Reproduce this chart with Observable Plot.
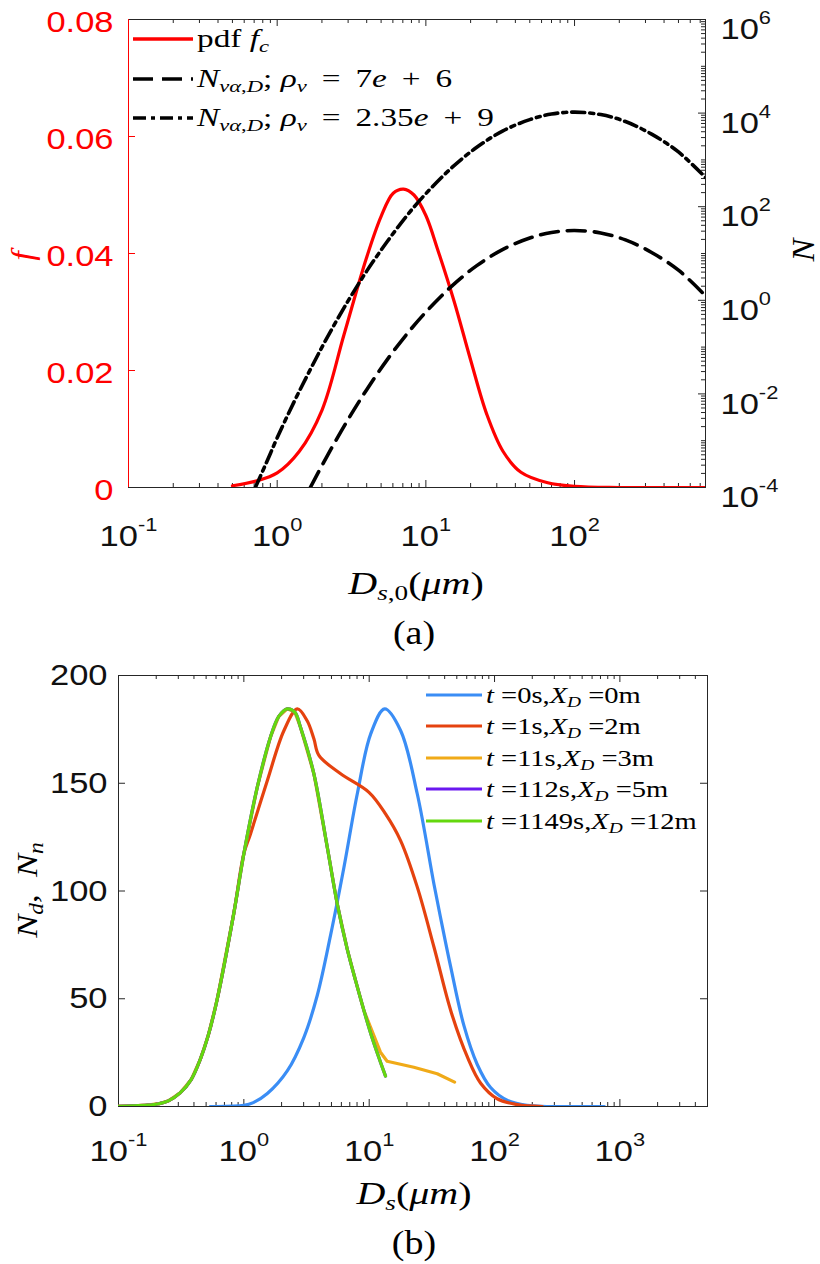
<!DOCTYPE html>
<html><head><meta charset="utf-8">
<script src="https://cdn.jsdelivr.net/npm/d3@7"></script>
<script src="https://cdn.jsdelivr.net/npm/@observablehq/plot@0.6"></script>
<style>
body{margin:0;background:#fff;}
#wrap{position:relative;width:820px;height:1264px;overflow:hidden;font-family:"Liberation Serif","Times New Roman",serif;color:#000;}
#wrap svg.plot{position:absolute;left:0;}
.lab{position:absolute;white-space:nowrap;line-height:1;}
.leg{position:absolute;display:flex;align-items:center;white-space:nowrap;line-height:1;}
.leg svg{display:block;margin-right:4px;flex:none;}
.leg span{display:inline-block;transform-origin:left center;}
sub{font-size:0.68em;vertical-align:-0.28em;line-height:0;}
i{font-style:italic;}
</style></head>
<body><div id="wrap"></div>
<script>
// ---------- Panel (a) data ----------
const xDomainA = [0.1, 760];
const xMajorA = [0.1, 1, 10, 100];
const fTicks = [0, 0.02, 0.04, 0.06, 0.08];
const fTickLabels = ["0", "0.02", "0.04", "0.06", "0.08"];
const nDomain = [1e-4, 1e6];
const nMajor = [1e-4, 1e-2, 1, 1e2, 1e4, 1e6];

// pdf f_c
const pdfD = [0.5, 0.72, 1.0, 1.41, 2.0, 2.82, 3.98, 5.01, 6.03, 7.08, 8.32, 10, 12, 15.5, 20, 25.7, 33, 43.6, 66, 100, 200, 760];
const pdfF = [0.0003, 0.0011, 0.0025, 0.0062, 0.0132, 0.0262, 0.0392, 0.0464, 0.0503, 0.0510, 0.0500, 0.0465, 0.0407, 0.0318, 0.0218, 0.0125, 0.0062, 0.0026, 0.0008, 0.0002, 0, 0];

// N_{va,D}, rho_v = 7e+6 (dashed)
const dashD = [1.67, 2.2, 3.0, 4.0, 5.5, 7.5, 10, 15, 22, 33, 50, 70, 100, 150, 220, 330, 500, 760];
const dashN = [1e-4, 5.1e-4, 2.85e-3, 0.0123, 0.054, 0.195, 0.56, 2.04, 5.5, 12.3, 21.4, 28.2, 31, 27.5, 19.5, 10.5, 4.4, 1.25];

// N_{va,D}, rho_v = 2.35e+9 (dash-dot)
const dashDotD = [0.713, 0.85, 1.0, 1.3, 1.7, 2.2, 3.0, 4.0, 5.5, 7.5, 10, 15, 22, 33, 50, 70, 100, 150, 220, 330, 500, 760];
const dashDotN = [1e-4, 3.5e-4, 1.15e-3, 6.8e-3, 0.037, 0.174, 0.97, 4.2, 18, 66, 190, 690, 1860, 4170, 7240, 9550, 10500, 9300, 6600, 3550, 1480, 420];

// ---------- Panel (b) data ----------
const xDomainB = [0.1, 5000];
const xMajorB = [0.1, 1, 10, 100, 1000];
const yTicksB = [0, 50, 100, 150, 200];
const seriesColors = ["#3a8df5", "#e5420f", "#f0aa18", "#6a18f0", "#64d80e"];

const blueD = [0.54, 1.0, 1.19, 1.54, 2.22, 3.01, 3.85, 4.92, 6.29, 8.03, 10.3, 13.3, 17.8, 24.2, 32.9, 38.5, 44.6, 57, 72.8, 93, 127, 182, 260, 750];
const blueN = [0, 0.5, 1.8, 6.0, 16.5, 32, 51.5, 79.5, 111, 145, 173, 184.5, 174.5, 145, 103, 83, 65, 37.5, 19.5, 8.8, 2.8, 0.5, 0, 0];

const redD = [0.1, 0.13, 0.17, 0.21, 0.25, 0.31, 0.38, 0.45, 0.52, 0.61, 0.83, 1.0, 1.13, 1.54, 2.09, 2.67, 3.2, 3.62, 3.97, 5.92, 9.96, 13.5, 17.8, 24.2, 32.9, 45, 60.7, 77.5, 105, 152, 240];
const redN = [0.1, 0.25, 0.6, 1.3, 2.6, 6.3, 12.5, 22, 33, 49.2, 89.4, 117.3, 126.5, 151.3, 174.5, 184.5, 179, 170.6, 162.9, 154.4, 145.8, 135.8, 123.4, 101.8, 73.9, 44, 23, 10.8, 3.6, 0.9, 0];

const orangeD = [0.1, 0.13, 0.17, 0.21, 0.25, 0.31, 0.38, 0.45, 0.52, 0.61, 0.83, 1.0, 1.28, 1.63, 1.9, 2.22, 2.55, 2.83, 3.62, 4.63, 5.56, 6.68, 7.78, 9.08, 12.3, 13.9, 22.7, 34.9, 48];
const orangeN = [0.1, 0.25, 0.6, 1.3, 2.6, 6.3, 12.5, 22, 33, 49.2, 89.4, 117.3, 148.2, 171.4, 181, 184.5, 183, 176, 154.4, 120.3, 94, 73, 58.5, 44.5, 25.2, 21, 18.2, 15.2, 11.3];

const purpleD = [0.1, 0.13, 0.17, 0.21, 0.25, 0.31, 0.38, 0.45, 0.52, 0.61, 0.83, 1.0, 1.28, 1.63, 1.9, 2.22, 2.55, 2.83, 3.62, 4.63, 5.56, 6.68, 7.78, 10.3, 13.5];
const purpleN = [0.1, 0.25, 0.6, 1.3, 2.6, 6.3, 12.5, 22, 33, 49.2, 89.4, 117.3, 148.2, 171.4, 181, 184.5, 183, 176, 154.4, 120.3, 94, 73, 58.5, 33.8, 14.1];

const greenD = [0.1, 0.13, 0.17, 0.21, 0.25, 0.31, 0.38, 0.45, 0.52, 0.61, 0.83, 1.0, 1.28, 1.63, 1.9, 2.22, 2.55, 2.83, 3.62, 4.63, 5.56, 6.68, 7.78, 10.3, 13.5];
const greenN = [0.1, 0.25, 0.6, 1.3, 2.6, 6.3, 12.5, 22, 33, 49.2, 89.4, 117.3, 148.2, 171.4, 181, 184.5, 183, 176, 154.4, 120.3, 94, 73, 58.5, 33.8, 14.1];

const legendBTexts = [
  "<i>t</i> =0s,<i>X</i><sub><i>D</i></sub> =0m",
  "<i>t</i> =1s,<i>X</i><sub><i>D</i></sub> =2m",
  "<i>t</i> =11s,<i>X</i><sub><i>D</i></sub> =3m",
  "<i>t</i> =112s,<i>X</i><sub><i>D</i></sub> =5m",
  "<i>t</i> =1149s,<i>X</i><sub><i>D</i></sub> =12m"
];

// ---------- helpers ----------
function minorTicks(lo, hi, exclude) {
  const out = [];
  for (let e = Math.floor(Math.log10(lo)) - 1; e <= Math.ceil(Math.log10(hi)); e++) {
    for (let k = 1; k <= 9; k++) {
      const v = +(k * Math.pow(10, e)).toPrecision(6);
      if (v >= lo * 0.9999 && v <= hi * 1.0001 && !exclude.some(m => Math.abs(m - v) / m < 1e-6)) out.push(v);
    }
  }
  return out;
}
const pow10Label = d => "10^" + Math.round(Math.log10(d));
const TEXT_STRETCH = 1.15;
function fixText(svg) {
  svg.querySelectorAll("text").forEach(t => {
    const m = /^10\^(-?\d+)$/.exec(t.textContent);
    if (m) {
      t.textContent = "10";
      const ts = document.createElementNS("http://www.w3.org/2000/svg", "tspan");
      ts.setAttribute("dy", "-15");
      ts.setAttribute("font-size", "19px");
      ts.textContent = m[1];
      t.appendChild(ts);
    }
    const tr = t.getAttribute("transform");
    if (tr) {
      t.setAttribute("transform", tr + ` scale(${TEXT_STRETCH},1)`);
    } else {
      const x = +(t.getAttribute("x") || 0), y = +(t.getAttribute("y") || 0);
      t.removeAttribute("x"); t.removeAttribute("y");
      t.setAttribute("transform", `translate(${x},${y}) scale(${TEXT_STRETCH},1)`);
    }
  });
}
const rows = (X, Y) => X.map((x, i) => ({x, y: Y[i]}));
const wrap = document.getElementById("wrap");
const tickFont = "'Liberation Sans', Arial, Helvetica, sans-serif";
const axisGray = "#262626";

// ---------- Panel (a) ----------
const WA = 820, HA = 650, mA = {marginTop: 19, marginBottom: 163, marginLeft: 128, marginRight: 115};
const aH = HA - mA.marginTop - mA.marginBottom, aW = WA - mA.marginLeft - mA.marginRight;
const xMinorA = minorTicks(xDomainA[0], xDomainA[1], xMajorA);
const nMinor = minorTicks(nDomain[0], nDomain[1], nMajor);

const plotA1 = Plot.plot({
  width: WA, height: HA, ...mA,
  style: {background: "transparent", fontFamily: tickFont, color: axisGray, overflow: "visible"},
  x: {type: "log", domain: xDomainA},
  y: {domain: [0, 0.08]},
  marks: [
    Plot.tickX(xMinorA, {x: d => d, insetTop: aH - 4, stroke: axisGray}),
    Plot.tickX(xMinorA, {x: d => d, insetBottom: aH - 4, stroke: axisGray}),
    Plot.tickX(xMajorA, {x: d => d, insetTop: aH - 7, stroke: axisGray}),
    Plot.tickX(xMajorA, {x: d => d, insetBottom: aH - 7, stroke: axisGray}),
    Plot.tickY(fTicks, {y: d => d, insetRight: aW - 7, stroke: "#ff0000"}),
    Plot.frame({stroke: axisGray}),
    Plot.ruleX([xDomainA[0]], {stroke: "#ff0000"}),
    Plot.axisX({ticks: xMajorA, tickSize: 0, tickPadding: 37, tickFormat: pow10Label, fontSize: 30, label: null, fill: "#111"}),
    Plot.axisY({ticks: fTicks, tickSize: 0, tickPadding: 15, dy: 3, tickFormat: d => fTickLabels[fTicks.indexOf(d)], fontSize: 30, label: null, fill: "#ff0000"}),
    Plot.line(rows(pdfD, pdfF), {x: "x", y: "y", stroke: "#ff0000", strokeWidth: 3.2, curve: "catmull-rom", clip: true})
  ]
});
plotA1.classList.add("plot");
plotA1.style.top = "0px";
fixText(plotA1);
wrap.appendChild(plotA1);

const plotA2 = Plot.plot({
  width: WA, height: HA, ...mA,
  style: {background: "transparent", fontFamily: tickFont, color: axisGray, overflow: "visible"},
  x: {type: "log", domain: xDomainA, axis: null},
  y: {type: "log", domain: nDomain},
  marks: [
    Plot.tickY(nMinor, {y: d => d, insetLeft: aW - 4, stroke: axisGray}),
    Plot.tickY(nMajor, {y: d => d, insetLeft: aW - 7, stroke: axisGray}),
    Plot.axisY({anchor: "right", ticks: nMajor, tickSize: 0, tickPadding: 15, dy: 10, tickFormat: pow10Label, fontSize: 30, label: null, fill: "#111"}),
    Plot.line(rows(dashD, dashN), {x: "x", y: "y", stroke: "#000", strokeWidth: 3.6, strokeDasharray: "18,9", curve: "catmull-rom", clip: true}),
    Plot.line(rows(dashDotD, dashDotN), {x: "x", y: "y", stroke: "#000", strokeWidth: 3.6, strokeDasharray: "13,5,4,5", curve: "catmull-rom", clip: true})
  ]
});
plotA2.classList.add("plot");
plotA2.style.top = "0px";
fixText(plotA2);
wrap.appendChild(plotA2);

// ---------- Panel (b) ----------
const TOPB = 640;
const WB = 820, HB = 624, mB = {marginTop: 35, marginBottom: 158, marginLeft: 118, marginRight: 113};
const bH = HB - mB.marginTop - mB.marginBottom, bW = WB - mB.marginLeft - mB.marginRight;
const xMinorB = minorTicks(xDomainB[0], xDomainB[1], xMajorB).filter(v => v < xDomainB[1]);
const bSeries = [[blueD, blueN, "catmull-rom"], [redD, redN, "catmull-rom"], [orangeD, orangeN, "linear"], [purpleD, purpleN, "catmull-rom"], [greenD, greenN, "catmull-rom"]];

const plotB = Plot.plot({
  width: WB, height: HB, ...mB,
  style: {background: "transparent", fontFamily: tickFont, color: axisGray, overflow: "visible"},
  x: {type: "log", domain: xDomainB},
  y: {domain: [0, 200]},
  marks: [
    Plot.tickX(xMinorB, {x: d => d, insetTop: bH - 4, stroke: axisGray}),
    Plot.tickX(xMinorB, {x: d => d, insetBottom: bH - 4, stroke: axisGray}),
    Plot.tickX(xMajorB, {x: d => d, insetTop: bH - 7, stroke: axisGray}),
    Plot.tickX(xMajorB, {x: d => d, insetBottom: bH - 7, stroke: axisGray}),
    Plot.tickY(yTicksB, {y: d => d, insetRight: bW - 7, stroke: axisGray}),
    Plot.tickY(yTicksB, {y: d => d, insetLeft: bW - 7, stroke: axisGray}),
    Plot.frame({stroke: axisGray}),
    Plot.axisX({ticks: xMajorB, tickSize: 0, tickPadding: 33, tickFormat: pow10Label, fontSize: 30, label: null, fill: "#111"}),
    Plot.axisY({ticks: yTicksB, tickSize: 0, tickPadding: 11, tickFormat: d => String(d), fontSize: 30, label: null, fill: "#111"}),
    ...bSeries.map(([D, N, curve], i) => Plot.line(rows(D, N), {x: "x", y: "y", stroke: seriesColors[i], strokeWidth: 3.2, curve, clip: true}))
  ]
});
plotB.classList.add("plot");
plotB.style.top = TOPB + "px";
fixText(plotB);
wrap.appendChild(plotB);

// ---------- Text labels & legends (HTML) ----------
function addLabel(html, x, y, size, sx, extra = "", rotate = false) {
  const d = document.createElement("div");
  d.className = "lab";
  d.style.left = x + "px"; d.style.top = y + "px"; d.style.fontSize = size + "px";
  d.style.transform = `translate(-50%,-50%)${rotate ? " rotate(-90deg)" : ""} scaleX(${sx})`;
  if (extra) d.style.cssText += extra;
  d.innerHTML = html;
  wrap.appendChild(d);
}
addLabel("<i>f</i>", 22, 256, 31, 1.1, "color:#ff0000;", true);
addLabel("<i>N</i>", 803, 250, 31, 1.1, "", true);
addLabel("<i>D</i><sub><i>s</i>,0</sub>(<i>μm</i>)", 416, 583, 32, 1.25);
addLabel("(a)", 414, 633, 33, 1.15);
addLabel("<i>N</i><sub><i>d</i></sub>, &nbsp;<i>N</i><sub><i>n</i></sub>", 27, 890, 30, 1.15, "", true);
addLabel("<i>D</i><sub><i>s</i></sub>(<i>μm</i>)", 414, 1193, 32, 1.25);
addLabel("(b)", 414, 1243, 33, 1.15);

function swatch(w, color, dash, sw) {
  return `<svg width="${w}" height="10"><line x1="0" y1="5" x2="${w}" y2="5" stroke="${color}" stroke-width="${sw}" ${dash ? `stroke-dasharray="${dash}"` : ""}/></svg>`;
}
function addLegendRow(x, yc, sw, text, size, sx) {
  const d = document.createElement("div");
  d.className = "leg";
  d.style.left = x + "px"; d.style.top = (yc - 15) + "px"; d.style.height = "30px"; d.style.fontSize = size + "px";
  d.innerHTML = sw + `<span style="transform:scaleX(${sx})">${text}</span>`;
  wrap.appendChild(d);
}
const legendA = [
  ["#ff0000", null, "pdf <i>f</i><sub><i>c</i></sub>"],
  ["#000", "20,9", "<i>N</i><sub><i>vα</i>,<i>D</i></sub>; <i>ρ</i><sub><i>v</i></sub> &thinsp;= &thinsp;7<i>e</i> &thinsp;+ &thinsp;6"],
  ["#000", "13,5,4,5", "<i>N</i><sub><i>vα</i>,<i>D</i></sub>; <i>ρ</i><sub><i>v</i></sub> &thinsp;= &thinsp;2.35<i>e</i> &thinsp;+ &thinsp;9"]
];
const legAy = [39, 79, 118];
legendA.forEach(([c, dash, txt], i) => addLegendRow(133, legAy[i], swatch(60, c, dash, 3.4), txt, 26, 1.28));

const legBy = [695, 726, 758, 789, 821];
legendBTexts.forEach((txt, i) => addLegendRow(426, legBy[i], swatch(56, seriesColors[i], null, 3.2), txt, 23, 1.24));
</script>
</body></html>
